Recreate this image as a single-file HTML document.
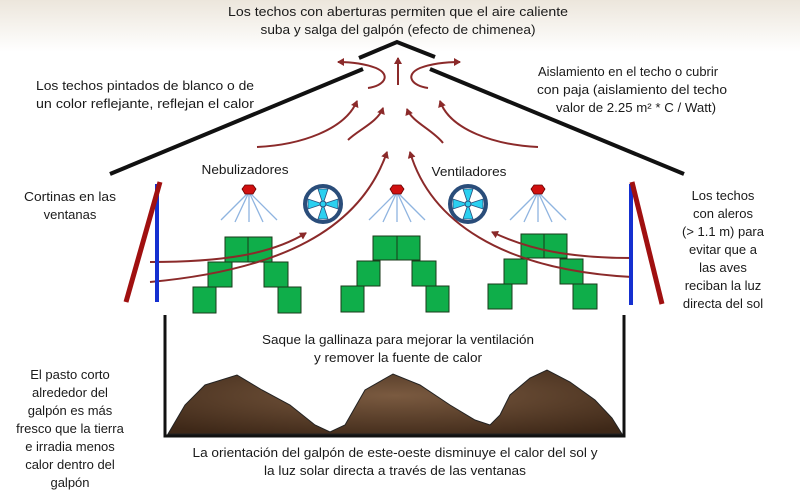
<!DOCTYPE html>
<html><head><meta charset="utf-8"><style>
html,body{margin:0;padding:0;background:#fff;}
svg{display:block;}
text{font-family:"Liberation Sans Narrow","Liberation Sans",sans-serif;font-size:13px;fill:#1a1a1a;}
</style></head><body>
<svg width="800" height="498" viewBox="0 0 800 498" xmlns="http://www.w3.org/2000/svg">
<defs>
<linearGradient id="top" x1="0" y1="0" x2="0" y2="1">
<stop offset="0" stop-color="#ece6dc"/><stop offset="1" stop-color="#ffffff"/>
</linearGradient>
<marker id="ah" markerWidth="8" markerHeight="8" refX="6" refY="4" orient="auto" markerUnits="userSpaceOnUse">
<path d="M0,0 L7,4 L0,8 Z" fill="#8b2a2a"/>
</marker>
<radialGradient id="dirt" cx="0.5" cy="0.4" r="0.7">
<stop offset="0" stop-color="#7a5a40"/><stop offset="1" stop-color="#3e2818"/>
</radialGradient>
</defs>
<rect x="0" y="0" width="800" height="52" fill="url(#top)"/>

<text x="398" y="16" text-anchor="middle" textLength="340" lengthAdjust="spacingAndGlyphs">Los techos con aberturas permiten que el aire caliente</text>
<text x="398" y="34" text-anchor="middle" textLength="275" lengthAdjust="spacingAndGlyphs">suba y salga del galpón (efecto de chimenea)</text>
<text x="145" y="90" text-anchor="middle" textLength="218" lengthAdjust="spacingAndGlyphs">Los techos pintados de blanco o de</text>
<text x="145" y="108" text-anchor="middle" textLength="218" lengthAdjust="spacingAndGlyphs">un color reflejante, reflejan el calor</text>
<text x="628" y="76" text-anchor="middle" textLength="180" lengthAdjust="spacingAndGlyphs">Aislamiento en el techo o cubrir</text>
<text x="632" y="94" text-anchor="middle" textLength="190" lengthAdjust="spacingAndGlyphs">con paja (aislamiento del techo</text>
<text x="636" y="112" text-anchor="middle" textLength="160" lengthAdjust="spacingAndGlyphs">valor de  2.25 m² * C / Watt)</text>

<polyline points="359,58 397,42 435,57" fill="none" stroke="#111" stroke-width="4"/>
<line x1="363" y1="69" x2="110" y2="174" stroke="#111" stroke-width="4"/>
<line x1="430" y1="69" x2="684" y2="174" stroke="#111" stroke-width="4"/>

<g fill="none" stroke="#8b2a2a" stroke-width="2" marker-end="url(#ah)">
<line x1="398" y1="85" x2="398" y2="58"/>
<path d="M368,88 C384,86 392,75 376,68 Q360,62 338,62"/>
<path d="M428,88 C412,86 404,75 420,68 Q436,62 460,62"/>
<path d="M257,147 C300,145 345,130 357,101"/>
<path d="M348,140 C358,130 378,122 383,108"/>
<path d="M443,143 C433,130 412,122 407,109"/>
<path d="M538,147 C495,145 450,130 440,101"/>
</g>

<text x="245" y="174" text-anchor="middle" textLength="87" lengthAdjust="spacingAndGlyphs">Nebulizadores</text>
<text x="469" y="176" text-anchor="middle" textLength="75" lengthAdjust="spacingAndGlyphs">Ventiladores</text>

<g id="spr">
<g stroke="#8fb4e0" stroke-width="1.3">
<line x1="249" y1="192" x2="221" y2="220"/><line x1="249" y1="192" x2="235" y2="222"/><line x1="249" y1="192" x2="249" y2="222"/><line x1="249" y1="192" x2="263" y2="222"/><line x1="249" y1="192" x2="277" y2="220"/>
</g>
<polygon points="245,185 253,185 256,189 253,194 245,194 242,189" fill="#d01010" stroke="#600" stroke-width="0.8"/>
</g>
<use href="#spr" x="148"/>
<use href="#spr" x="289"/>

<g id="fan">
<circle cx="323" cy="204" r="18" fill="#fff" stroke="#2a4d7a" stroke-width="4"/>
<g fill="#2ad0f0" stroke="#2a4d7a" stroke-width="0.8">
<polygon points="323,204 318,189 328,189"/><polygon points="323,204 318,219 328,219"/>
<polygon points="323,204 308,199 308,209"/><polygon points="323,204 338,199 338,209"/>
</g>
<circle cx="323" cy="204" r="3" fill="#2ad0f0" stroke="#2a4d7a"/>
</g>
<use href="#fan" x="145"/>

<g fill="#0fae4a" stroke="#1a3a1a" stroke-width="1">
<rect x="225" y="237" width="23" height="25"/><rect x="248" y="237" width="24" height="25"/>
<rect x="208" y="262" width="24" height="25"/><rect x="264" y="262" width="24" height="25"/>
<rect x="193" y="287" width="23" height="26"/><rect x="278" y="287" width="23" height="26"/>
<rect x="373" y="236" width="24" height="24"/><rect x="397" y="236" width="23" height="24"/>
<rect x="357" y="261" width="23" height="25"/><rect x="412" y="261" width="24" height="25"/>
<rect x="341" y="286" width="23" height="26"/><rect x="426" y="286" width="23" height="26"/>
<rect x="521" y="234" width="23" height="24"/><rect x="544" y="234" width="23" height="24"/>
<rect x="504" y="259" width="23" height="25"/><rect x="560" y="259" width="23" height="25"/>
<rect x="488" y="284" width="24" height="25"/><rect x="573" y="284" width="24" height="25"/>
</g>
<g fill="none" stroke="#8b2a2a" stroke-width="2">
<path d="M150,282 C280,270 360,230 387,152" marker-end="url(#ah)"/>
<path d="M150,262 C220,262 270,255 306,233" marker-end="url(#ah)"/>
<path d="M632,277 C500,270 430,220 410,152" marker-end="url(#ah)"/>
<path d="M632,258 C570,258 530,250 492,232" marker-end="url(#ah)"/>
</g>

<line x1="157" y1="184" x2="157" y2="302" stroke="#1530d0" stroke-width="4"/>
<line x1="160" y1="182" x2="126" y2="302" stroke="#a01010" stroke-width="5"/>
<line x1="631" y1="184" x2="631" y2="305" stroke="#1530d0" stroke-width="4"/>
<line x1="632" y1="182" x2="662" y2="304" stroke="#a01010" stroke-width="5"/>

<text x="70" y="201" text-anchor="middle" textLength="92" lengthAdjust="spacingAndGlyphs">Cortinas en las</text>
<text x="70" y="219" text-anchor="middle">ventanas</text>
<g text-anchor="middle">
<text x="723" y="200">Los techos</text>
<text x="723" y="218">con aleros</text>
<text x="723" y="236">(&gt; 1.1 m) para</text>
<text x="723" y="254">evitar que a</text>
<text x="723" y="272">las aves</text>
<text x="723" y="290">reciban la luz</text>
<text x="723" y="308">directa del sol</text>
</g>

<polyline points="165,315 165,436 624,436 624,315" fill="none" stroke="#111" stroke-width="3"/>
<path d="M168,434 L185,405 L205,385 L237,375 L262,390 L290,405 L315,425 L330,432 L345,425 L365,390 L393,374 L420,385 L450,405 L475,420 L490,425 L500,415 L510,395 L530,378 L547,370 L570,382 L595,400 L612,418 L622,434 Z" fill="url(#dirt)" stroke="#222" stroke-width="1"/>

<text x="398" y="344" text-anchor="middle" textLength="272" lengthAdjust="spacingAndGlyphs">Saque la gallinaza para mejorar la ventilación</text>
<text x="398" y="362" text-anchor="middle" textLength="168" lengthAdjust="spacingAndGlyphs">y remover la fuente de calor</text>
<text x="395" y="457" text-anchor="middle" textLength="405" lengthAdjust="spacingAndGlyphs">La orientación del galpón de este-oeste disminuye el calor del sol y</text>
<text x="395" y="475" text-anchor="middle" textLength="262" lengthAdjust="spacingAndGlyphs">la luz solar directa a través de las ventanas</text>
<g text-anchor="middle">
<text x="70" y="379">El pasto corto</text>
<text x="70" y="397">alrededor del</text>
<text x="70" y="415">galpón es más</text>
<text x="70" y="433">fresco que la tierra</text>
<text x="70" y="451">e irradia menos</text>
<text x="70" y="469">calor dentro del</text>
<text x="70" y="487">galpón</text>
</g>
</svg>
</body></html>
